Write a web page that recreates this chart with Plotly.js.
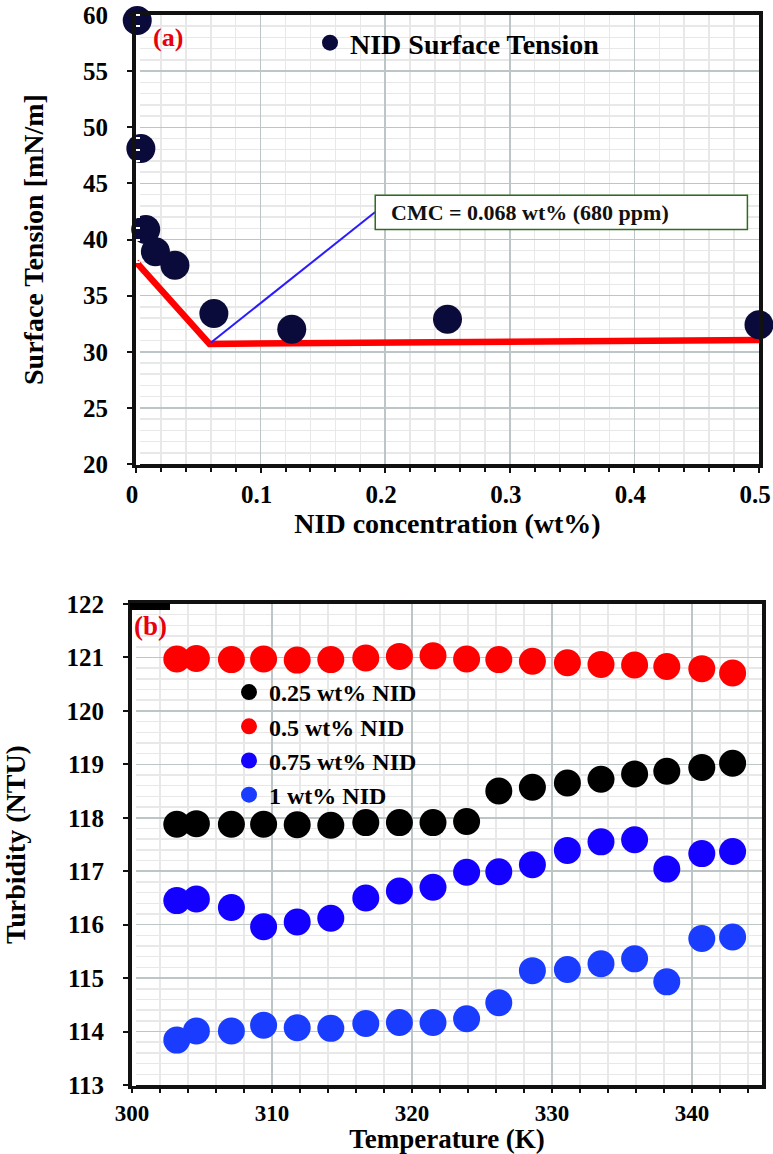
<!DOCTYPE html>
<html>
<head>
<meta charset="utf-8">
<script src="https://cdn.plot.ly/plotly-3.0.1.min.js"></script>
<style>html,body{margin:0;padding:0;background:#fff;}#chart{width:773px;height:1154px;}</style>
</head>
<body>
<div id="chart"></div>
<script>
// ---- Panel (a): surface tension ----
const concWt = [0.001, 0.0039, 0.0078, 0.0156, 0.03125, 0.0625, 0.125, 0.25, 0.5];
const surfTension = [59.5, 48.1, 40.9, 38.9, 37.7, 33.4, 32.0, 32.9, 32.4];
const fitX = [0, 0.059, 0.5];
const fitY = [38.0, 30.7, 31.05];
const cmcLineX = [0.06, 0.192];
const cmcLineY = [30.8, 42.45];
const cmcLabel = "CMC = 0.068 wt% (680 ppm)";
const xTicksA = [0, 0.1, 0.2, 0.3, 0.4, 0.5];
const xTickTextA = ["0", "0.1", "0.2", "0.3", "0.4", "0.5"];

// ---- Panel (b): turbidity ----
const tempK = [303.2, 304.6, 307.1, 309.4, 311.8, 314.2, 316.7, 319.1, 321.5, 323.9, 326.2, 328.6, 331.1, 333.5, 335.9, 338.2, 340.7, 342.9];
const turb025 = [117.88, 117.89, 117.88, 117.88, 117.87, 117.86, 117.91, 117.91, 117.91, 117.93, 118.50, 118.57, 118.65, 118.72, 118.82, 118.87, 118.94, 119.02];
const turb05 = [120.97, 120.98, 120.96, 120.97, 120.95, 120.96, 120.99, 121.02, 121.03, 120.97, 120.96, 120.93, 120.90, 120.87, 120.86, 120.83, 120.79, 120.71];
const turb075 = [116.45, 116.48, 116.32, 115.96, 116.05, 116.12, 116.50, 116.63, 116.70, 116.98, 116.99, 117.12, 117.39, 117.55, 117.59, 117.04, 117.33, 117.37];
const turb1 = [113.84, 114.01, 114.01, 114.12, 114.07, 114.06, 114.15, 114.17, 114.17, 114.24, 114.54, 115.14, 115.16, 115.27, 115.36, 114.93, 115.74, 115.77];
const seriesNames = ["0.25 wt% NID", "0.5 wt% NID", "0.75 wt% NID", "1 wt% NID"];
const seriesColors = ["#000000", "#FF0000", "#1400FF", "#1A3CFF"];

const FF = "Liberation Serif, Times New Roman, serif";
const bold = (s, c) => ({family: FF, size: s, color: c || "#000", weight: 700});

const traces = [
  {x: fitX, y: fitY, xaxis: "x", yaxis: "y", mode: "lines", line: {color: "#FF0000", width: 6.5}, showlegend: false, hoverinfo: "skip"},
  {x: cmcLineX, y: cmcLineY, xaxis: "x", yaxis: "y", mode: "lines", line: {color: "#2A1BFF", width: 2}, showlegend: false, hoverinfo: "skip"},
  {x: concWt, y: surfTension, xaxis: "x", yaxis: "y", mode: "markers", name: "NID Surface Tension",
   marker: {color: "#0B0B3B", size: 29}, legend: "legend", cliponaxis: false},
];
const turbSeries = [turb025, turb05, turb075, turb1];
turbSeries.forEach((ys, i) => {
  traces.push({x: tempK, y: ys, xaxis: "x2", yaxis: "y2", mode: "markers", name: seriesNames[i],
    marker: {color: seriesColors[i], size: 27}, legend: "legend2", cliponaxis: false});
});

const W = 773, H = 1154;
const px = v => v / W;
const py = v => 1 - v / H;

function axisBase() {
  return {
    showline: true, linecolor: "#111", linewidth: 4, mirror: true,
    ticks: "outside", ticklen: 5, tickwidth: 2, tickcolor: "#111",
    showgrid: true, gridcolor: "#BCC6C6", gridwidth: 1.5,
    zeroline: false, tickfont: bold(25), ticklabeloverflow: "allow",
    fixedrange: true
  };
}

const layout = {
  width: W, height: H,
  margin: {l: 0, r: 0, t: 0, b: 0},
  paper_bgcolor: "#fff", plot_bgcolor: "#fff",
  xaxis: Object.assign(axisBase(), {
    domain: [px(136), px(759)], anchor: "y", range: [0, 0.5],
    tickvals: xTicksA, ticktext: xTickTextA, ticklabelshift: -4,
    minor: {dtick: 0.02, tick0: 0, showgrid: true, gridcolor: "#E8E8E8", gridwidth: 1.5, ticks: "outside", ticklen: 4, tickcolor: "#111"},
    ticklabelstandoff: 0,
    title: {text: "NID concentration (wt%)", font: bold(28), standoff: 4}
  }),
  yaxis: Object.assign(axisBase(), {
    domain: [py(464), py(15)], anchor: "x", range: [20, 60], dtick: 5, tick0: 20,
    minor: {dtick: 1, showgrid: true, gridcolor: "#E8E8E8", gridwidth: 1.5, ticks: "inside", ticklen: 4, tickcolor: "#fff"},
    ticklabelstandoff: 14,
    title: {text: "Surface Tension [mN/m]", font: bold(28), standoff: 32}
  }),
  xaxis2: Object.assign(axisBase(), {
    domain: [px(132), px(762)], anchor: "y2", range: [300, 345], dtick: 10, tick0: 300,
    tickfont: bold(23), ticklen: 4,
    minor: {dtick: 2, showgrid: true, gridcolor: "#E8E8E8", gridwidth: 1.5, ticks: "outside", ticklen: 4, tickcolor: "#111"},
    ticklabelstandoff: 0,
    title: {text: "Temperature (K)", font: bold(27), standoff: 5}
  }),
  yaxis2: Object.assign(axisBase(), {
    domain: [py(1085), py(604)], anchor: "x2", range: [113, 122], dtick: 1, tick0: 113,
    minor: {dtick: 0.2, showgrid: true, gridcolor: "#E8E8E8", gridwidth: 1.5, ticks: "inside", ticklen: 4, tickcolor: "#fff"},
    ticklabelstandoff: 14,
    title: {text: "Turbidity (NTU)", font: bold(28), standoff: 42}
  }),
  legend: {x: px(310), y: py(18), xanchor: "left", yanchor: "top", bgcolor: "rgba(0,0,0,0)",
    font: bold(28), itemsizing: "trace"},
  legend2: {x: px(229), y: py(670), xanchor: "left", yanchor: "top", bgcolor: "rgba(0,0,0,0)",
    font: bold(24), itemsizing: "trace", tracegroupgap: 0},
  shapes: [
    {type: "rect", xref: "x", yref: "y", x0: 0.192, x1: 0.4907, y0: 40.9, y1: 43.95,
     line: {color: "#2E6B1E", width: 1.5}, fillcolor: "#fff", layer: "above"},
    {type: "rect", xref: "paper", yref: "paper", x0: px(130), x1: px(170), y0: py(610), y1: py(603),
     line: {width: 0}, fillcolor: "#000"}
  ],
  annotations: [
    {xref: "x", yref: "y", x: 0.203, y: 42.4, xanchor: "left", yanchor: "middle", showarrow: false,
     text: cmcLabel, font: bold(22, "#111")},
    {xref: "paper", yref: "paper", x: px(151), y: py(38), xanchor: "left", yanchor: "middle", showarrow: false,
     text: "(a)", font: bold(26, "#E8000B")},
    {xref: "paper", yref: "paper", x: px(132), y: py(626), xanchor: "left", yanchor: "middle", showarrow: false,
     text: "(b)", font: bold(27, "#E8000B")}
  ]
};

Plotly.newPlot("chart", traces, layout, {staticPlot: true, displayModeBar: false});
</script>
</body>
</html>
